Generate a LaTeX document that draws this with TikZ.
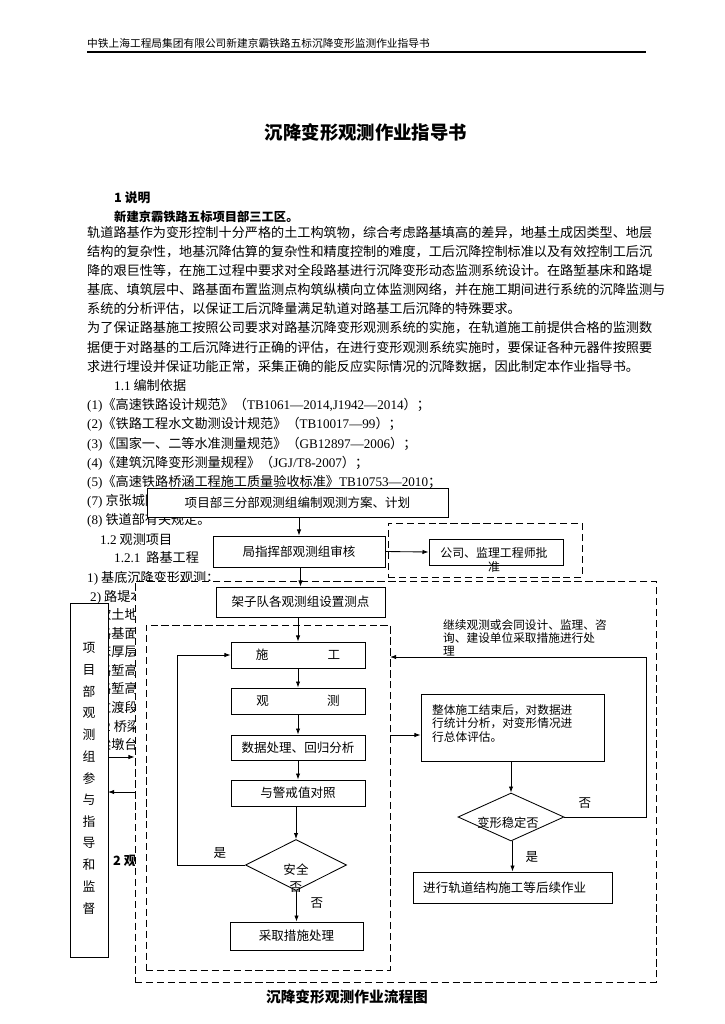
\documentclass[tikz,border=0pt]{standalone}
\usepackage{fontspec}
\setmainfont{Noto Sans CJK SC}
\newfontfamily\lat{Liberation Serif}
\usetikzlibrary{shapes.geometric,arrows.meta}
\newdimen\unitpx \unitpx=0.822pt
\XeTeXlinebreaklocale "zh"
\XeTeXlinebreakskip=0pt plus 2pt minus 0.4pt
\newcommand\jline[2]{\hbox to #1\unitpx{#2}}

\begin{document}
\begin{tikzpicture}
[x=0.822pt,y=-0.822pt,every node/.style={inner sep=0pt},
 body/.style={anchor=west,font=\fontsize{10.8}{13}\selectfont,text height=9.2pt,text depth=1.6pt},
 proc/.style={draw,line width=0.7pt,fill=white,font=\fontsize{10.3}{12}\selectfont},
 cond/.style={diamond,draw,line width=0.7pt,fill=white},
 dbox/.style={draw,line width=0.7pt,dash pattern=on 6pt off 3pt,fill=white},
 arr/.style={line width=0.7pt,-{Latex[length=5pt,width=3.6pt]}},
 lbl/.style={font=\fontsize{10.3}{12}\selectfont}]
  \useasboundingbox (0,0) rectangle (724,1024);

  % page head
  \node[anchor=west,font=\fontsize{8.8}{10}\selectfont] (h1) at (87,43) {中铁上海工程局集团有限公司新建京霸铁路五标沉降变形监测作业指导书};
  \draw[line width=1pt] (87,52) -- (646,52);
  \node[font=\fontsize{15.1}{18}\selectfont\bfseries] (h2) at (366,132) {沉降变形观测作业指导书};
  \node[body,font=\fontsize{10.5}{12}\selectfont\bfseries] (h3) at (114,198) {1 说明};
  \node[body,font=\fontsize{10.1}{12}\selectfont\bfseries] (h4) at (114,217) {新建京霸铁路五标项目部三工区。};

  % text
  \node[body] (p1) at (87,233) {\jline{555}{轨道路基作为变形控制十分严格的土工构筑物，综合考虑路基填高的差异，地基土成因类型、地层}};
  \node[body] (p2) at (87,252) {\jline{555}{结构的复杂性，地基沉降估算的复杂性和精度控制的难度，工后沉降控制标准以及有效控制工后沉}};
  \node[body] (p3) at (87,271) {\jline{555}{降的艰巨性等，在施工过程中要求对全段路基进行沉降变形动态监测系统设计。在路堑基床和路堤}};
  \node[body] (p4) at (87,290) {\jline{555}{基底、填筑层中、路基面布置监测点构筑纵横向立体监测网络，并在施工期间进行系统的沉降监测与}};
  \node[body] (p5) at (87,309) {系统的分析评估，以保证工后沉降量满足轨道对路基工后沉降的特殊要求。};
  \node[body] (p6) at (87,328) {\jline{555}{为了保证路基施工按照公司要求对路基沉降变形观测系统的实施，在轨道施工前提供合格的监测数}};
  \node[body] (p7) at (87,348) {\jline{555}{据便于对路基的工后沉降进行正确的评估，在进行变形观测系统实施时，要保证各种元器件按照要}};
  \node[body] (p8) at (87,367) {求进行埋设并保证功能正常，采集正确的能反应实际情况的沉降数据，因此制定本作业指导书。};
  \node[body] (p9) at (114,386) {{\lat 1.1} 编制依据};
  \node[body] (q1) at (87,405) {{\lat (1)}《高速铁路设计规范》（{\lat TB1061—2014,J1942—2014}）；};
  \node[body] (q2) at (87,424) {{\lat (2)}《铁路工程水文勘测设计规范》（{\lat TB10017—99}）；};
  \node[body] (q3) at (87,444) {{\lat (3)}《国家一、二等水准测量规范》（{\lat GB12897—2006}）；};
  \node[body] (q4) at (87,463) {{\lat (4)}《建筑沉降变形测量规程》（{\lat JGJ/T8-2007}）；};
  \node[body] (q5) at (87,482) {{\lat (5)}《高速铁路桥涵工程施工质量验收标准》{\lat TB10753—2010}；};
  \node[body] (q7) at (87,501) {{\lat (7)} 京张城际};
  \node[body] (q8) at (87,520) {{\lat (8)} 铁道部有关规定。};
  \node[body] (r1) at (100,540) {{\lat 1.2} 观测项目};
  \node[body] (r2) at (114,558) {{\lat 1.2.1}\ \ 路基工程};
  \node[body] (r3) at (87,578) {{\lat 1)} 基底沉降变形观测；};
  \node[body] (r4) at (90,597) {{\lat 2)} 路堤本};
  \node[body] (r5) at (98,615) {软土地};
  \node[body] (r6) at (98,634) {路基面};
  \node[body] (r7) at (98,652) {床厚层};
  \node[body] (r8) at (98,671) {路堑高};
  \node[body] (r9) at (98,689) {路堑高};
  \node[body] (r10) at (98,708) {过渡段};
  \node[body] (r11) at (104,727) {{\lat 2} 桥梁};
  \node[body] (r12) at (98,745) {梁墩台};
  \node[body,font=\fontsize{10.5}{12}\selectfont\bfseries] (r13) at (113,861) {2 观测};

  % frames
  \node[dbox,minimum width=521\unitpx,minimum height=401\unitpx] (g2) at (395.5,781.5) {};
  \node[dbox,minimum width=244\unitpx,minimum height=345\unitpx] (g1) at (268,797.5) {};
  \node[dbox,minimum width=194\unitpx,minimum height=54\unitpx] (g3) at (485,550) {};
  \node[proc,minimum width=38\unitpx,minimum height=354\unitpx] (n13) at (89,780) {};
  \foreach \c [count=\i from 0] in {项,目,部,观,测,组,参,与,指,导,和,监,督}
    \node[lbl,font=\fontsize{10.5}{12}\selectfont] (v\i) at (89,648+21.7*\i) {\c};

  % flow
  \node[proc,minimum width=301\unitpx,minimum height=29\unitpx] (n1) at (297.5,502.5) {项目部三分部观测组编制观测方案、计划};
  \node[proc,minimum width=172\unitpx,minimum height=31\unitpx] (n2) at (299,551.5) {局指挥部观测组审核};
  \node[proc,minimum width=134\unitpx,minimum height=26\unitpx] (n3) at (496,552) {};
  \node[lbl,align=center,font=\fontsize{9.8}{11.5}\selectfont] (t3) at (494,560) {公司、监理工程师批\\准};
  \node[proc,minimum width=169\unitpx,minimum height=30\unitpx] (n5) at (300.5,602) {架子队各观测组设置测点};
  \node[proc,minimum width=134\unitpx,minimum height=26\unitpx] (n6) at (298,655) {施\hspace{59\unitpx}工};
  \node[proc,minimum width=134\unitpx,minimum height=26\unitpx] (n7) at (298,701) {观\hspace{58\unitpx}测};
  \node[proc,minimum width=134\unitpx,minimum height=25\unitpx] (n8) at (298,747.5) {数据处理、回归分析};
  \node[proc,minimum width=134\unitpx,minimum height=26\unitpx] (n9) at (298,793) {与警戒值对照};
  \node[cond,minimum width=101\unitpx,minimum height=51\unitpx] (d1) at (296,865) {};
  \node[lbl,align=center,font=\fontsize{10.3}{14}\selectfont] (t1) at (296,878.5) {安全\\否};
  \node[proc,minimum width=133\unitpx,minimum height=28\unitpx] (n10) at (296.5,936) {采取措施处理};
  \node[proc,minimum width=183\unitpx,minimum height=67\unitpx] (n11) at (512.5,727.5) {};
  \node[anchor=west,align=left,font=\fontsize{9.6}{11.1}\selectfont] (t11) at (432,723.5)
    {\jline{163}{整体施工结束后，对数据进}\\\jline{163}{行统计分析，对变形情况进}\\行总体评估。};
  \node[cond,minimum width=106\unitpx,minimum height=48\unitpx] (d2) at (511,817) {};
  \node[lbl,font=\fontsize{10.1}{12}\selectfont] (t2) at (508,823) {变形稳定否};
  \node[proc,minimum width=199\unitpx,minimum height=31\unitpx] (n12) at (512.5,887.5) {};
  \node[lbl,anchor=west] (t12) at (423,888) {进行轨道结构施工等后续作业};
  \node[anchor=west,align=left,font=\fontsize{9.6}{10.85}\selectfont] (t4) at (443,638)
    {继续观测或会同设计、监理、咨\\询、建设单位采取措施进行处\\理};
  \node[lbl] (y1) at (220,853) {是};
  \node[lbl] (f1) at (317,903) {否};
  \node[lbl] (f2) at (585,803) {否};
  \node[lbl] (y2) at (532,857) {是};
  \node[font=\fontsize{12.1}{14}\selectfont\bfseries] (cap) at (347,997) {沉降变形观测作业流程图};

  \coordinate (c1) at (390,657);
  \coordinate (c2) at (390,735);
  \coordinate (c3) at (108,757);
  \coordinate (c4) at (108,792);

  \foreach \from/\to in {n1/n2, n2/n5, n5/n6, n6/n7, n7/n8, n8/n9, n9/d1, d1/n10, n11/d2, d2/n12}
    \draw[arr] (\to.north |- \from.south) -- (\to.north);
  \draw[arr] (n2.east) -- (n3.west);
  \draw[arr] (d1.west) -- ++(-68,0) |- (n6.west);
  \draw[arr] (d2.east) -- ++(82,0) |- (c1);
  \draw[arr] (c2) -- (c2 -| n11.west);
  \draw[arr] (c3) -- (c3 -| g2.west);
  \draw[arr] (c4 -| g2.west) -- (c4);

\end{tikzpicture}
\end{document}
